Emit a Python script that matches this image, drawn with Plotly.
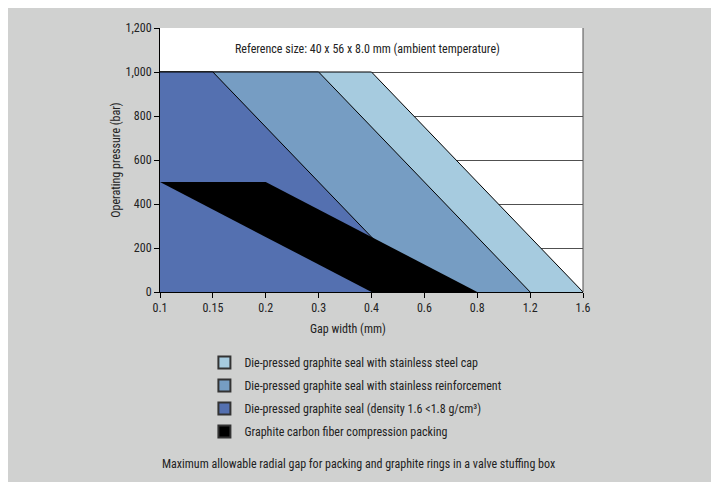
import plotly.graph_objects as go

# gap width categories (equally spaced on the chart)
gap_labels = ["0.1", "0.15", "0.2", "0.3", "0.4", "0.6", "0.8", "1.2", "1.6"]
pressure_ticks = [0, 200, 400, 600, 800, 1000, 1200]

# operating pressure limits (bar) per gap category
steel_cap = [1000, 1000, 1000, 1000, 1000, 750, 500, 250, 0]
reinforcement = [1000, 1000, 1000, 1000, 750, 500, 250, 0]
dense_seal = [1000, 1000, 750, 500, 250, 0]
packing_upper = [500, 500, 500, 375, 250, 125, 0]
packing_lower = [500, 375, 250, 125, 0]

names = [
    "Die-pressed graphite seal with stainless steel cap",
    "Die-pressed graphite seal with stainless reinforcement",
    "Die-pressed graphite seal (density 1.6 <1.8 g/cm\u00b3)",
    "Graphite carbon fiber compression packing",
]
colors = ["#A6CBDF", "#769DC3", "#5470B0", "#000000"]

FONT = "Roboto Condensed, DejaVu Sans Condensed, sans-serif"
BG = "#D0D1D0"

data = []
# blue areas, back to front
for vals, col in zip([steel_cap, reinforcement, dense_seal], colors[:3]):
    data.append(go.Scatter(
        x=list(range(len(vals))), y=vals,
        mode="lines", fill="tozeroy", fillcolor=col,
        line=dict(color="black", width=1),
        showlegend=False, hoverinfo="skip"))

# black packing band
px = list(range(len(packing_upper))) + list(range(len(packing_lower)))[::-1]
py = packing_upper + packing_lower[::-1]
data.append(go.Scatter(
    x=px, y=py, mode="lines", fill="toself", fillcolor="black",
    line=dict(color="black", width=0),
    showlegend=False, hoverinfo="skip"))

# legend entries
for i, (name, col) in enumerate(zip(names, colors)):
    data.append(go.Scatter(
        x=[None], y=[None], mode="markers", name=name, legendgroup=str(i),
        marker=dict(symbol="square", size=14, color=col,
                    line=dict(color="#333333", width=1))))

layout = go.Layout(
    width=719, height=482,
    margin=dict(l=152, r=144, t=20, b=198),
    paper_bgcolor=BG, plot_bgcolor="white",
    font=dict(family=FONT, size=12, color="#222222"),
    xaxis=dict(
        range=[0, 8], tickvals=list(range(len(gap_labels))), ticktext=gap_labels,
        showline=True, linecolor="black", linewidth=1,
        ticks="outside", ticklen=5, tickcolor="black",
        showgrid=False, zeroline=False),
    yaxis=dict(
        range=[0, 1200], tickvals=pressure_ticks, tickformat=",",
        showline=True, linecolor="black", linewidth=1,
        ticks="outside", ticklen=5, tickcolor="black",
        showgrid=True, gridcolor="#505050", gridwidth=1, zeroline=False,
        title=dict(text="Operating pressure (bar)", standoff=2, font=dict(size=12))),
    legend=dict(x=0.105, y=-0.212, xanchor="left", yanchor="top",
                bgcolor="rgba(0,0,0,0)", font=dict(size=12),
                itemsizing="constant", tracegroupgap=4),
    annotations=[
        dict(text="Reference size: 40 x 56 x 8.0 mm (ambient temperature)",
             xref="paper", yref="paper", x=0.49, y=0.955, showarrow=False,
             font=dict(size=12)),
        # x axis title sits a little left of centre in the original
        dict(text="Gap width (mm)", xref="paper", yref="paper",
             x=0.444, y=-0.175, showarrow=False, font=dict(size=12)),
        dict(text="Maximum allowable radial gap for packing and graphite rings in a valve stuffing box",
             xref="paper", yref="paper", x=0.47, y=-0.685, showarrow=False,
             font=dict(size=12)),
    ],
    shapes=[
        # right border of plot
        dict(type="line", xref="paper", yref="paper", x0=1, x1=1, y0=0, y1=1,
             line=dict(color="#505050", width=1)),
    ],
)

fig = go.Figure(data=data, layout=layout)
fig.write_html("out.html")
